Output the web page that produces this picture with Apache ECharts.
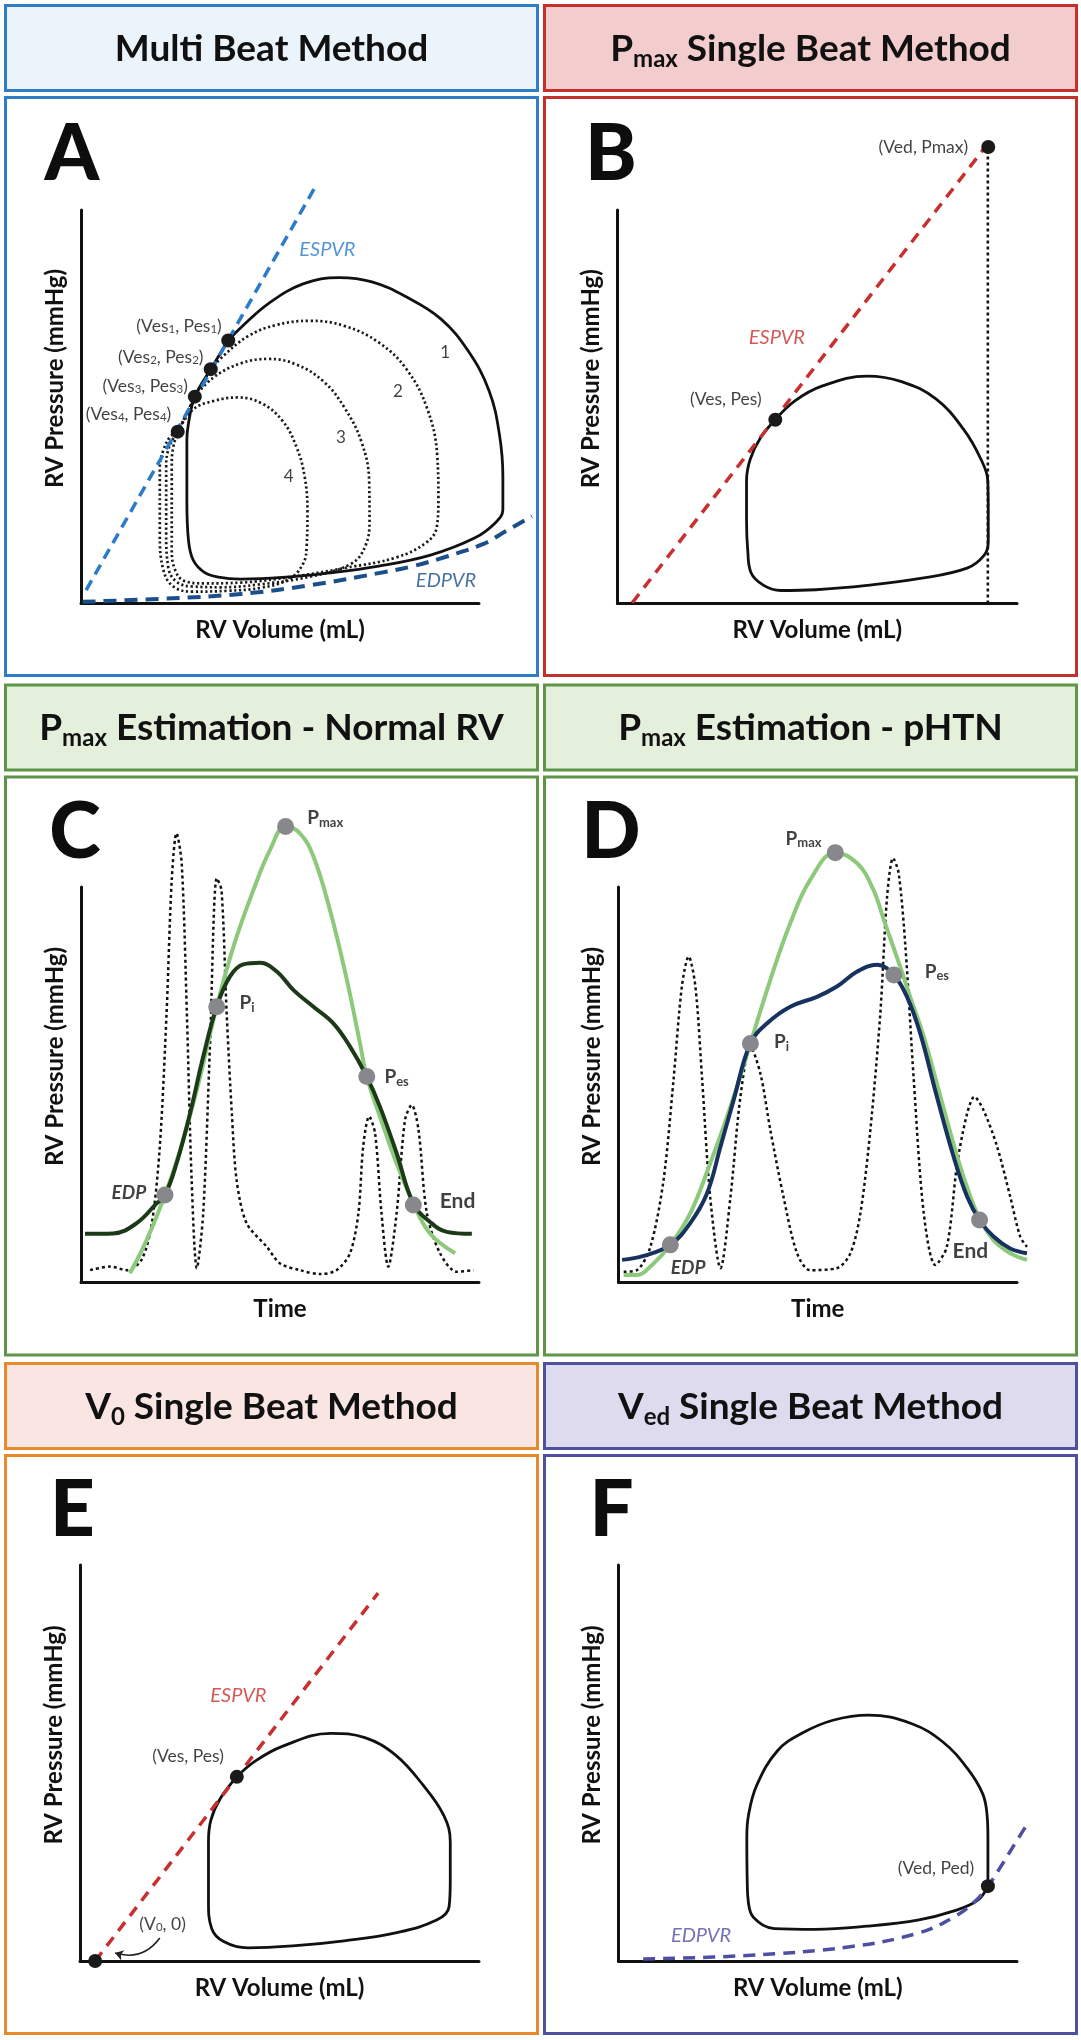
<!DOCTYPE html>
<html><head><meta charset="utf-8">
<script src="https://cdn.jsdelivr.net/npm/echarts@6.0.0/dist/echarts.min.js"></script>
<style>html,body{margin:0;padding:0;background:#fff}#c{width:1081px;height:2040px}</style>
</head><body><div id="c"></div><script>
// ---------------- DATA (axis units: 0-100 along each visible axis) ----------------
const headerTitles = [
  '{m|Multi Beat Method}',
  '{m|P}{s|max}{m| Single Beat Method}',
  '{m|P}{s|max}{m| Estimation - Normal RV}',
  '{m|P}{s|max}{m| Estimation - pHTN}',
  '{m|V}{s|0}{m| Single Beat Method}',
  '{m|V}{s|ed}{m| Single Beat Method}'
];
const panelLetters = ['A', 'B', 'C', 'D', 'E', 'F'];
const xNames = ['RV Volume (mL)', 'RV Volume (mL)', 'Time', 'Time', 'RV Volume (mL)', 'RV Volume (mL)'];
const yNames = ['RV Pressure (mmHg)', 'RV Pressure (mmHg)', 'RV Pressure (mmHg)', 'RV Pressure (mmHg)', 'RV Pressure (mmHg)', 'RV Pressure (mmHg)'];

// Panel A
const espvrA = [[1.3, 3.3], [59.2, 106.5]];
const edpvrA = [[0.4, 0.3], [22.9, 1.2], [40.2, 2.3], [57.5, 4.5], [74.8, 7.6], [83.5, 9.4], [92.1, 11.9], [100.8, 14.9], [106.8, 18.3], [113.3, 22.1]];
const loopA1 = [[37.0, 66.8], [40.2, 70.1], [47.1, 76.2], [55.8, 81.2], [64.9, 82.8], [73.1, 81.7], [81.7, 77.9], [90.4, 72.3], [97.3, 64.1], [102.5, 54.1], [105.1, 43.1], [106.0, 32.1], [106.0, 23.8], [104.2, 20.5], [99.0, 16.6], [87.8, 12.2], [74.8, 9.4], [61.9, 7.6], [50.6, 6.5], [40.2, 6.1], [34.5, 6.6], [31.0, 7.8], [28.2, 10.9], [27.0, 16.0], [26.6, 26.2], [26.6, 41.5], [27.0, 45.7], [28.6, 52.5], [32.6, 59.5], [37.0, 66.8]];
const loopA2 = [[32.6, 59.5], [35.9, 63.0], [42.0, 67.9], [48.9, 70.7], [57.5, 71.8], [66.2, 70.5], [74.8, 66.3], [81.7, 59.6], [86.9, 49.7], [89.5, 37.6], [89.8, 26.5], [89.4, 19.4], [86.9, 15.5], [79.2, 11.6], [66.2, 8.9], [53.2, 6.7], [40.2, 5.2], [31.0, 5.0], [26.0, 5.6], [23.6, 8.5], [22.8, 14.0], [22.8, 34.7], [23.2, 39.8], [24.5, 43.6], [28.6, 52.5], [32.6, 59.5]];
const loopA3 = [[28.6, 52.5], [33.3, 57.4], [40.2, 61.0], [47.1, 62.1], [54.1, 60.7], [61.0, 56.3], [66.2, 49.7], [70.5, 40.9], [72.4, 31.0], [72.5, 21.0], [71.4, 14.4], [67.9, 10.0], [57.5, 6.7], [44.6, 4.7], [35.0, 4.0], [28.0, 4.2], [24.0, 5.4], [21.9, 9.2], [21.4, 17.7], [21.4, 34.7], [21.9, 38.9], [23.6, 42.7], [24.3, 43.6], [28.6, 52.5]];
const loopA4 = [[24.3, 43.6], [28.1, 49.2], [33.3, 51.4], [39.4, 52.3], [45.4, 50.8], [50.6, 46.4], [54.1, 39.8], [56.2, 32.1], [56.9, 23.2], [56.7, 14.4], [55.8, 10.0], [52.3, 6.1], [45.4, 3.9], [36.8, 3.1], [28.0, 2.9], [23.2, 4.2], [20.7, 8.4], [19.8, 17.7], [19.8, 34.7], [20.7, 38.9], [22.4, 42.3], [24.3, 43.6]];
const esPointsA = [[37.0, 66.8], [32.6, 59.5], [28.6, 52.5], [24.3, 43.6]];
const esLabelsA = [[35.5, 70.3, '(Ves{s|1}, Pes{s|1})'], [30.9, 62.5, '(Ves{s|2}, Pes{s|2})'], [27.0, 55.2, '(Ves{s|3}, Pes{s|3})'], [22.8, 48.1, '(Ves{s|4}, Pes{s|4})']];
const loopNumbersA = [[91.5, 63.8, '1'], [79.6, 53.8, '2'], [65.3, 42.2, '3'], [52.2, 32.1, '4']];
const espvrTextA = [[61.9, 90.0, 'ESPVR']];
const edpvrTextA = [[91.7, 5.6, 'EDPVR']];

// Panel B
const espvrB = [[3.7, 0.2], [91.6, 115.4]];
const vedLineB = [[92.7, 0], [92.7, 116]];
const loopB = [[39.5, 46.7], [44.4, 51.5], [51.3, 55.3], [62.5, 57.8], [71.1, 56.4], [79.7, 52.0], [86.6, 44.3], [91.0, 36.6], [92.7, 31.1], [92.8, 23.4], [92.8, 15.7], [91.8, 12.3], [87.5, 9.0], [75.4, 6.3], [62.5, 4.6], [49.6, 3.5], [40.9, 3.3], [36.6, 4.6], [33.4, 7.9], [32.6, 13.5], [32.3, 21.2], [32.3, 31.1], [33.2, 36.6], [35.8, 42.1], [39.5, 46.7]];
const pointsB = [[39.5, 46.7], [92.8, 116]];
const labelsB = [[36.2, 51.8, '(Ves, Pes)'], [87.9, 116, '(Ved, Pmax)']];
const espvrTextB = [[39.9, 67.5, 'ESPVR']];

// Panel C (normal RV)
const fitC = [[12.3, 2.2], [16.5, 10.6], [21.1, 22.0], [24.9, 33.4], [29.1, 48.6], [34.1, 69.7], [38.3, 84.9], [43.3, 99.2], [47.5, 109.4], [51.4, 115.3], [55.0, 113.6], [58.4, 107.7], [62.6, 94.0], [66.8, 76.5], [70.1, 60.4], [71.8, 52.0], [75.1, 41.9], [79.3, 30.0], [83.5, 19.9], [87.7, 12.3], [94.0, 7.3]];
const pressureC = [[1.0, 12.2], [8.1, 12.3], [14.0, 14.9], [19.0, 19.9], [21.1, 22.0], [24.0, 30.0], [27.4, 42.7], [30.7, 57.0], [34.1, 69.7], [37.4, 77.3], [40.8, 80.4], [45.0, 80.8], [49.2, 78.6], [53.4, 73.9], [58.4, 69.7], [63.4, 65.5], [67.6, 59.6], [71.8, 52.0], [75.1, 44.4], [79.3, 32.6], [83.5, 19.9], [87.7, 15.2], [91.9, 12.7], [98.2, 12.2]];
const dpdtC = [[2.3, 3.0], [7.3, 3.9], [11.5, 3.0], [15.2, 5.6], [17.8, 14.9], [19.8, 34.3], [21.5, 68.0], [22.8, 101.8], [24.0, 113.6], [25.3, 106.0], [26.6, 68.0], [27.8, 25.8], [29.1, 3.5], [30.7, 17.4], [32.4, 59.6], [34.1, 102.2], [35.3, 99.2], [36.6, 68.0], [37.9, 42.7], [39.1, 25.8], [41.6, 14.9], [46.7, 8.9], [50.0, 4.7], [55.0, 3.0], [60.1, 2.0], [64.2, 3.0], [67.6, 7.3], [69.7, 17.4], [70.9, 34.3], [72.4, 41.9], [73.9, 37.6], [75.5, 17.4], [77.2, 3.9], [79.3, 17.4], [81.4, 41.0], [83.1, 44.8], [84.8, 38.5], [86.9, 17.4], [90.2, 7.3], [94.4, 2.6], [98.6, 3.0]];
const markersC = [[21.1, 22.0], [34.1, 69.7], [51.4, 115.3], [71.8, 52.0], [83.5, 19.5]];
const subLabelsC = [[56.7, 117.5, 'P{s|max}'], [39.7, 70.6, 'P{s|i}'], [76.1, 51.9, 'P{s|es}']];
const edpLabelC = [[16.5, 22.5, 'EDP']];
const endLabelC = [[90.0, 20.5, 'End']];

// Panel D (pHTN)
const fitD = [[1.3, 1.8], [4.6, 1.8], [8.8, 4.7], [13.0, 9.4], [18.0, 17.4], [23.0, 30.0], [28.1, 44.4], [33.1, 60.4], [38.1, 76.5], [43.1, 90.8], [48.1, 101.8], [54.4, 108.7], [59.9, 106.0], [64.0, 99.2], [66.6, 91.6], [70.7, 79.8], [73.2, 72.2], [76.6, 62.1], [80.8, 46.9], [85.0, 31.7], [88.3, 21.6], [90.8, 15.7], [94.1, 10.6], [98.3, 7.3], [102.5, 5.6]];
const pressureD = [[0.9, 5.6], [6.3, 6.6], [13.0, 9.4], [18.0, 14.9], [22.2, 22.4], [25.6, 34.3], [28.9, 46.1], [33.1, 60.4], [37.3, 65.5], [43.1, 69.7], [49.8, 72.2], [54.8, 74.8], [59.9, 78.6], [64.9, 80.3], [69.1, 77.7], [72.4, 72.2], [75.7, 63.0], [79.9, 46.9], [84.1, 31.7], [87.5, 21.6], [90.6, 15.7], [94.1, 11.5], [98.3, 8.5], [102.5, 7.3]];
const dpdtD = [[1.3, 2.6], [4.6, 3.0], [8.0, 8.9], [11.3, 25.8], [13.8, 51.1], [15.9, 74.8], [17.6, 82.4], [19.3, 74.8], [21.0, 51.1], [23.0, 21.6], [25.6, 3.5], [28.1, 21.6], [30.6, 46.9], [33.1, 59.6], [35.6, 52.8], [38.1, 38.5], [41.4, 21.6], [44.8, 7.3], [48.1, 3.0], [54.8, 3.5], [58.2, 7.3], [60.7, 17.4], [63.2, 38.5], [65.7, 68.0], [67.4, 97.5], [68.9, 107.3], [70.3, 103.5], [72.0, 84.9], [74.1, 51.1], [76.6, 17.4], [79.5, 4.3], [82.4, 8.9], [85.0, 30.0], [87.5, 42.7], [89.3, 46.9], [91.6, 43.5], [95.0, 34.3], [98.3, 21.6], [100.8, 11.5], [102.5, 8.9]];
const markersD = [[13.0, 9.4], [33.1, 60.4], [54.4, 108.7], [69.1, 77.7], [90.6, 15.7]];
const subLabelsD = [[41.8, 112.3, 'P{s|max}'], [38.9, 60.8, 'P{s|i}'], [76.7, 78.6, 'P{s|es}']];
const edpLabelD = [[13.0, 3.5, 'EDP']];
const endLabelD = [[83.7, 7.9, 'End']];

// Panel E
const espvrE = [[3.8, 0], [74.7, 92.9]];
const loopE = [[39.3, 46.5], [43.8, 50.4], [50.7, 54.2], [62.8, 57.5], [71.4, 56.4], [79.1, 52.0], [86.0, 44.4], [91.2, 36.7], [92.8, 30.1], [92.8, 20.3], [92.5, 13.7], [89.5, 10.4], [79.1, 7.1], [66.2, 5.1], [53.3, 3.8], [42.1, 3.3], [36.0, 4.9], [33.0, 8.2], [32.2, 14.8], [32.2, 30.1], [32.8, 35.6], [35.2, 41.1], [39.3, 46.5]];
const pointsE = [[39.3, 46.5], [3.8, 0]];
const vesLabelE = [[36.2, 51.8, '(Ves, Pes)']];
const v0LabelE = [[20.7, 9.3, '(V{s|0}, 0)']];
const arrowE = [[20.0, 5.8], [8.8, 2.0]];
const espvrTextE = [[39.7, 67.1, 'ESPVR']];

// Panel F
const loopF = [[92.7, 18.9], [92.7, 31.2], [92.5, 36.7], [91.4, 42.2], [87.5, 48.7], [81.4, 55.3], [73.6, 59.9], [62.8, 62.1], [53.8, 60.8], [46.0, 57.5], [39.9, 53.1], [34.7, 44.4], [32.6, 36.7], [32.2, 31.2], [32.3, 20.3], [32.6, 14.8], [33.9, 11.0], [39.1, 8.2], [49.4, 8.0], [62.4, 8.8], [75.4, 10.4], [84.0, 12.6], [90.1, 15.3], [92.7, 18.9]];
const edpvrF = [[6.2, 0.5], [32.2, 1.4], [58.1, 3.6], [75.4, 7.1], [84.0, 11.0], [89.2, 14.8], [92.7, 18.9], [96.1, 24.1], [99.1, 29.0], [102.2, 34.0]];
const pointsF = [[92.7, 18.9]];
const vedLabelF = [[89.4, 23.3, '(Ved, Ped)']];
const edpvrTextF = [[20.7, 6.5, 'EDPVR']];

// ---------------- STYLE / LAYOUT ----------------
const FONT = 'Lato';
const strokes = ['#2E7DC6', '#C4302B', '#5E9547', '#5E9547', '#E88A2B', '#514F9F'];
const fills = ['#EBF3FB', '#F3CDCD', '#E4EFDC', '#E4EFDC', '#F9E6E2', '#DEDBEE'];
const COLS = [5.5, 544.5], ROWS = [5.5, 685, 1363.5];
const BOX_W = 532, HEAD_H = 85, BODY_OFF = 92, BODY_H = 578;
const letterPos = [[72, 155], [611, 155], [75, 833], [611, 833], [72.5, 1511], [611.5, 1511]];
const plotAreas = [
  {left: 81, top: 210, width: 398, height: 393},
  {left: 617.5, top: 210, width: 399.5, height: 393.5},
  {left: 81, top: 887, width: 398, height: 395},
  {left: 618.5, top: 887, width: 398.5, height: 395},
  {left: 80, top: 1565, width: 399, height: 396},
  {left: 618.5, top: 1565, width: 398.5, height: 396}
];
// drawing grids share the same scale but extend 15% further right, so marks drawn
// past the end of the visible x axis (as in the reference) are not dropped
const EXT = 1.15;
const grids = plotAreas.concat(plotAreas.map(g => ({left: g.left, top: g.top, width: g.width * EXT, height: g.height})));

const graphics = [];
for (let i = 0; i < 6; i++) {
  const cx = COLS[i % 2], ry = ROWS[Math.floor(i / 2)];
  graphics.push({type: 'rect', z: 0, shape: {x: cx, y: ry, width: BOX_W, height: HEAD_H}, style: {fill: fills[i], stroke: strokes[i], lineWidth: 3}});
  graphics.push({type: 'rect', z: 0, shape: {x: cx, y: ry + BODY_OFF, width: BOX_W, height: BODY_H}, style: {fill: '#fff', stroke: strokes[i], lineWidth: 3}});
  graphics.push({type: 'text', z: 1, x: cx + BOX_W / 2, y: ry + HEAD_H / 2 + 1, style: {
    text: headerTitles[i], align: 'center', verticalAlign: 'middle',
    rich: {
      m: {fontFamily: FONT, fontSize: 37, fontWeight: 'bold', fill: '#111', lineHeight: 44},
      s: {fontFamily: FONT, fontSize: 24, fontWeight: 'bold', fill: '#111', lineHeight: 31, verticalAlign: 'bottom'}
    }}});
  graphics.push({type: 'text', z: 1, x: letterPos[i][0], y: letterPos[i][1], style: {
    text: panelLetters[i], align: 'center', verticalAlign: 'middle',
    fontFamily: FONT, fontSize: 78, fontWeight: 900, fill: '#0d0d0d'}});
}

const xAxes = [], yAxes = [];
const nameStyle = {fontFamily: FONT, fontSize: 24, fontWeight: 'bold', color: '#111'};
for (let i = 0; i < 6; i++) {
  const common = {gridIndex: i, type: 'value', min: 0, max: 100,
    axisLine: {show: true, onZero: false, lineStyle: {color: '#111', width: 3}},
    axisTick: {show: false}, axisLabel: {show: false}, splitLine: {show: false},
    nameLocation: 'middle'};
  xAxes.push(Object.assign({}, common, {name: xNames[i], nameGap: 15, nameTextStyle: nameStyle}));
  yAxes.push(Object.assign({}, common, {name: yNames[i], nameGap: 14,
    nameTextStyle: Object.assign({}, nameStyle, {padding: [0, 0, 0, 56]})}));
}
for (let i = 0; i < 6; i++) {
  xAxes.push({gridIndex: 6 + i, type: 'value', min: 0, max: 100 * EXT, show: false});
  yAxes.push({gridIndex: 6 + i, type: 'value', min: 0, max: 100, show: false});
}

function line(g, data, color, width, type, smooth, z) {
  return {type: 'line', xAxisIndex: 6 + g, yAxisIndex: 6 + g, data: data, symbol: 'none', showSymbol: false,
    smooth: smooth, clip: false, silent: true, animation: false, z: z || 2,
    lineStyle: {color: color, width: width, type: type, cap: 'butt', join: 'round'}};
}
function dots(g, data, color, size) {
  return {type: 'scatter', xAxisIndex: 6 + g, yAxisIndex: 6 + g, data: data, symbolSize: size,
    itemStyle: {color: color, opacity: 1}, clip: false, silent: true, animation: false, z: 6};
}
function texts(g, data, position, st) {
  return {type: 'scatter', xAxisIndex: 6 + g, yAxisIndex: 6 + g, symbolSize: 1, clip: false, silent: true, animation: false, z: 7,
    itemStyle: {color: 'rgba(0,0,0,0)'},
    data: data.map(d => ({value: [d[0], d[1]], name: d[2]})),
    label: Object.assign({show: true, position: position, distance: 0, formatter: '{b}', fontFamily: FONT, color: '#111'}, st)};
}
const subRich = (fs, lh) => ({s: {fontFamily: FONT, fontSize: fs, color: '#111', lineHeight: lh, verticalAlign: 'bottom'}});
const ptLabel = {fontSize: 17.5, lineHeight: 18, rich: subRich(11.5, 12)};
const pLabel = {fontSize: 19, fontWeight: 'bold', lineHeight: 22, rich: {s: {fontFamily: FONT, fontSize: 13, fontWeight: 'bold', color: '#111', lineHeight: 12, verticalAlign: 'bottom'}}};

const BLUE = '#2B7BCA', DBLUE = '#1B4F8A', RED = '#C8302F', PURP = '#4E4FA3';
const LGREEN = '#8CC97A', DGREEN = '#1C3A18', NAVY = '#17325F', GRAY = '#86888B', DOT = '#1a1a1a';

const series = [
  // A
  line(0, loopA4, '#1a1a1a', 2.7, [2.2, 2.6], 0.4),
  line(0, loopA3, '#1a1a1a', 2.7, [2.2, 2.6], 0.4),
  line(0, loopA2, '#1a1a1a', 2.7, [2.2, 2.6], 0.4),
  line(0, loopA1, '#111', 2.8, 'solid', 0.4),
  line(0, espvrA, BLUE, 3.5, [11, 7], false, 3),
  line(0, edpvrA, DBLUE, 4, [13, 8], 0.4, 3),
  dots(0, esPointsA, DOT, 14),
  texts(0, esLabelsA, 'left', ptLabel),
  texts(0, loopNumbersA, 'inside', {fontSize: 17}),
  texts(0, espvrTextA, 'inside', {fontSize: 20, fontStyle: 'italic', color: BLUE}),
  texts(0, edpvrTextA, 'inside', {fontSize: 20, fontStyle: 'italic', color: DBLUE}),
  // B
  line(1, loopB, '#111', 2.8, 'solid', 0.4),
  line(1, vedLineB, '#111', 2.6, [3, 3], false),
  line(1, espvrB, RED, 3.5, [11, 8], false, 3),
  dots(1, pointsB, DOT, 14),
  texts(1, labelsB, 'left', ptLabel),
  texts(1, espvrTextB, 'inside', {fontSize: 20, fontStyle: 'italic', color: RED}),
  // C
  line(2, dpdtC, '#111', 2.5, [3, 3], 0.3),
  line(2, fitC, LGREEN, 4, 'solid', 0.4, 3),
  line(2, pressureC, DGREEN, 4, 'solid', 0.4, 4),
  dots(2, markersC, GRAY, 17),
  texts(2, subLabelsC, 'right', pLabel),
  texts(2, edpLabelC, 'left', {fontSize: 19, fontWeight: 'bold', fontStyle: 'italic'}),
  texts(2, endLabelC, 'right', {fontSize: 21, fontWeight: 'bold'}),
  // D
  line(3, dpdtD, '#111', 2.5, [3, 3], 0.3),
  line(3, fitD, LGREEN, 4, 'solid', 0.4, 3),
  line(3, pressureD, NAVY, 4, 'solid', 0.4, 4),
  dots(3, markersD, GRAY, 17),
  texts(3, subLabelsD, 'right', pLabel),
  texts(3, edpLabelD, 'right', {fontSize: 19, fontWeight: 'bold', fontStyle: 'italic'}),
  texts(3, endLabelD, 'right', {fontSize: 21, fontWeight: 'bold'}),
  // E
  line(4, loopE, '#111', 2.8, 'solid', 0.4),
  line(4, espvrE, RED, 3.5, [11, 8], false, 3),
  dots(4, pointsE, DOT, 14),
  texts(4, vesLabelE, 'left', ptLabel),
  texts(4, v0LabelE, 'inside', ptLabel),
  texts(4, espvrTextE, 'inside', {fontSize: 20, fontStyle: 'italic', color: RED}),
  {type: 'lines', coordinateSystem: 'cartesian2d', xAxisIndex: 10, yAxisIndex: 10, silent: true, animation: false, z: 5,
    data: [{coords: arrowE}], symbol: ['none', 'arrow'], symbolSize: 8,
    lineStyle: {color: '#222', width: 1.6, curveness: 0.35, opacity: 1}},
  // F
  line(5, loopF, '#111', 2.8, 'solid', 0.4),
  line(5, edpvrF, PURP, 3.5, [12, 8], 0.4, 3),
  dots(5, pointsF, DOT, 14),
  texts(5, vedLabelF, 'left', ptLabel),
  texts(5, edpvrTextF, 'inside', {fontSize: 20, fontStyle: 'italic', color: PURP})
];

const chart = echarts.init(document.getElementById('c'), null, {renderer: 'canvas', width: 1081, height: 2040});
chart.setOption({
  backgroundColor: '#fff',
  animation: false,
  graphic: {elements: graphics},
  grid: grids,
  xAxis: xAxes,
  yAxis: yAxes,
  series: series
});
</script></body></html>
